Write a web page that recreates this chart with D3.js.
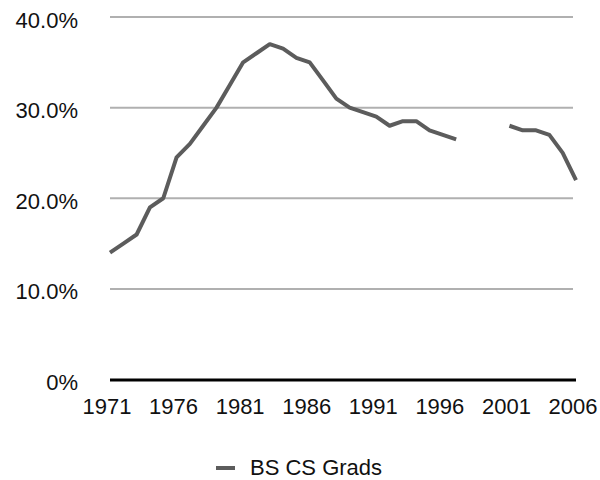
<!DOCTYPE html>
<html>
<head>
<meta charset="utf-8">
<script src="https://cdn.jsdelivr.net/npm/d3@7"></script>
<style>
  html, body { margin: 0; padding: 0; background: #fff; }
  svg { display: block; font-family: "Liberation Sans", Arial, Helvetica, sans-serif; }
</style>
</head>
<body>
<svg id="chart" width="600" height="480"></svg>
<script>
const years = [1971,1972,1973,1974,1975,1976,1977,1978,1979,1980,1981,1982,1983,1984,1985,1986,1987,1988,1989,1990,1991,1992,1993,1994,1995,1996,1997,1998,1999,2000,2001,2002,2003,2004,2005,2006];
const bsCsGrads = [14,15,16,19,20,24.5,26,28,30,32.5,35,36,37,36.5,35.5,35,33,31,30,29.5,29,28,28.5,28.5,27.5,27,26.5,null,null,null,28,27.5,27.5,27,25,22];
const xTickLabels = [1971,1976,1981,1986,1991,1996,2001,2006];
const yTicks = [0,10,20,30,40];
const seriesName = "BS CS Grads";

const svg = d3.select("#chart");
const x = d3.scaleLinear().domain([1971, 2006]).range([110, 576]);
const y = d3.scaleLinear().domain([0, 40]).range([379.5, 17]);

// gridlines
svg.append("g").selectAll("line")
  .data(yTicks.filter(t => t > 0))
  .join("line")
  .attr("x1", 110).attr("x2", 573)
  .attr("y1", d => y(d)).attr("y2", d => y(d))
  .attr("stroke", "#b0b0b0").attr("stroke-width", 2);

// y labels
svg.append("g").selectAll("text")
  .data(yTicks)
  .join("text")
  .attr("x", 78)
  .attr("y", d => y(d) + 10.5)
  .attr("text-anchor", "end")
  .attr("font-size", 22)
  .attr("fill", "#111")
  .text(d => d === 0 ? "0%" : d.toFixed(1) + "%");

// x axis line
svg.append("line")
  .attr("x1", x(1971)).attr("x2", x(2006))
  .attr("y1", 380).attr("y2", 380)
  .attr("stroke", "#000").attr("stroke-width", 3);

// x labels
svg.append("g").selectAll("text")
  .data(xTickLabels)
  .join("text")
  .attr("x", d => x(d) - 3)
  .attr("y", 413.5)
  .attr("text-anchor", "middle")
  .attr("font-size", 22)
  .attr("fill", "#111")
  .text(d => d);

// line
const data = years.map((yr, i) => ({ year: yr, value: bsCsGrads[i] }));
const line = d3.line()
  .defined(d => d.value != null)
  .x(d => x(d.year))
  .y(d => y(d.value));
svg.append("path")
  .datum(data)
  .attr("d", line)
  .attr("fill", "none")
  .attr("stroke", "#5c5c5c")
  .attr("stroke-width", 4)
  .attr("stroke-linejoin", "round");

// legend
const lg = svg.append("g");
lg.append("line")
  .attr("x1", 216).attr("x2", 235)
  .attr("y1", 468).attr("y2", 468)
  .attr("stroke", "#5c5c5c").attr("stroke-width", 4);
lg.append("text")
  .attr("x", 250).attr("y", 474.5)
  .attr("font-size", 22)
  .attr("fill", "#111")
  .text(seriesName);
</script>
</body>
</html>
